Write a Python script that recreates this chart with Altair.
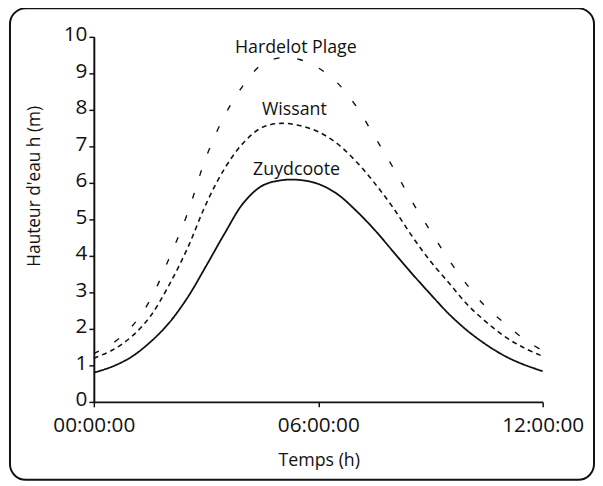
import altair as alt
import pandas as pd

hours = [0, 0.5, 1, 1.5, 2, 2.5, 3, 3.5, 4, 4.5, 5, 5.5, 6, 6.5, 7, 7.5, 8,
         8.5, 9, 9.5, 10, 10.5, 11, 11.5, 12]
zuydcoote = [0.80, 0.97, 1.23, 1.63, 2.15, 2.85, 3.72, 4.62, 5.45, 5.92, 6.07,
             6.08, 5.97, 5.70, 5.25, 4.72, 4.12, 3.52, 2.95, 2.40, 1.94, 1.56,
             1.25, 1.02, 0.84]
wissant = [1.20, 1.42, 1.78, 2.33, 3.18, 4.20, 5.42, 6.40, 7.10, 7.52, 7.63,
           7.57, 7.40, 7.08, 6.60, 6.00, 5.32, 4.55, 3.85, 3.25, 2.65, 2.18,
           1.78, 1.48, 1.25]
hardelot = [1.32, 1.60, 2.05, 2.78, 3.90, 5.15, 6.70, 7.85, 8.68, 9.25, 9.43,
            9.38, 9.15, 8.75, 8.12, 7.28, 6.42, 5.50, 4.68, 3.88, 3.18, 2.58,
            2.14, 1.72, 1.40]

series_names = ["Zuydcoote", "Wissant", "Hardelot Plage"]
label_text = ["Hardelot Plage", "Wissant", "Zuydcoote"]
label_h = [5.4, 5.36, 5.42]
label_v = [9.57, 7.86, 6.21]
y_ticks = [0, 1, 2, 3, 4, 5, 6, 7, 8, 9, 10]
x_ticks = [0, 6, 12]

rows = []
for name, vals in zip(series_names, [zuydcoote, wissant, hardelot]):
    for h, v in zip(hours, vals):
        rows.append({"h": h, "v": v, "serie": name})
df = pd.DataFrame(rows)
labels_df = pd.DataFrame({"t": label_text, "h": label_h, "v": label_v})

FONT = "Open Sans"

x_enc = alt.X("h:Q", scale=alt.Scale(domain=[0, 12], nice=False),
              axis=alt.Axis(values=x_ticks, title="Temps (h)",
                            labelExpr="(datum.value < 10 ? '0' : '') + datum.value + ':00:00'",
                            labelFontSize=21, labelPadding=8, labelFlush=False,
                            labelOverlap=False,
                            titleFontSize=18, titleFontWeight="normal",
                            titleX=228, titleY=64, titleBaseline="alphabetic"))
y_enc = alt.Y("v:Q", scale=alt.Scale(domain=[0, 10], nice=False),
              axis=alt.Axis(values=y_ticks, title="Hauteur d'eau h (m)",
                            labelFontSize=21, labelPadding=2, labelOverlap=False,
                            labelFlush=False, labelBaseline="middle", labelOffset=-2,
                            titleFontSize=17.5, titleFontWeight="normal",
                            titleX=-60, titleY=151, titleAngle=270,
                            titleAlign="center", titleBaseline="middle"))

lines = alt.Chart(df).mark_line(interpolate="catmull-rom", color="#111").encode(
    x=x_enc,
    y=y_enc,
    detail="serie:N",
    strokeDash=alt.StrokeDash("serie:N", scale=alt.Scale(
        domain=series_names, range=[[1, 0], [5, 4], [6, 18]]), legend=None),
    strokeWidth=alt.StrokeWidth("serie:N", scale=alt.Scale(
        domain=series_names, range=[1.8, 1.4, 2.2]), legend=None),
)

texts = alt.Chart(labels_df).mark_text(font=FONT, fontSize=18, color="#111",
                                       baseline="alphabetic", align="center").encode(
    x=x_enc, y=y_enc, text="t:N")

frame = alt.Chart(pd.DataFrame({"a": [0]})).mark_rect(
    filled=False, stroke="#111", strokeWidth=2, cornerRadius=16).encode(
    x=alt.value(-85), x2=alt.value(507), y=alt.value(-29), y2=alt.value(449))

chart = alt.layer(frame, lines, texts).properties(
    width=455, height=370,
    autosize=alt.AutoSizeParams(type="none"),
    padding={"left": 87, "top": 26, "right": 53, "bottom": 82},
).configure_view(stroke=None).configure_axis(
    grid=False, domainColor="#111", domainWidth=2, tickColor="#111",
    tickWidth=1.5, tickSize=5, labelColor="#111", titleColor="#111",
    labelFont=FONT, titleFont=FONT,
)

chart.save("out.html", embed_options={"renderer": "svg", "actions": False})
